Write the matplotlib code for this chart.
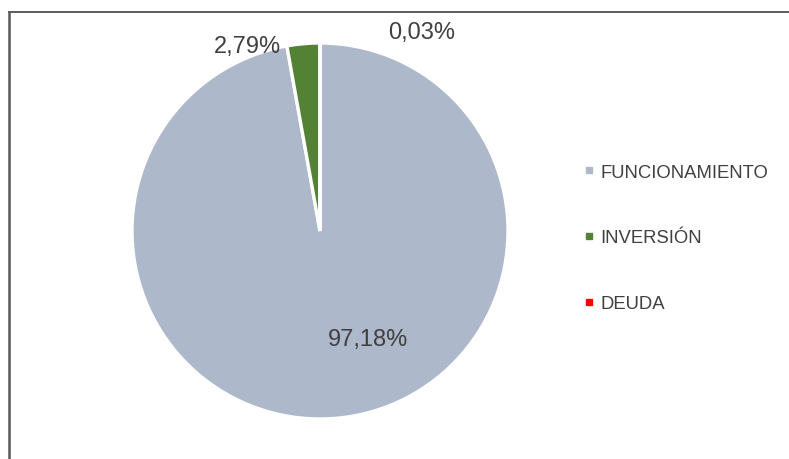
import matplotlib
matplotlib.use("Agg")
import matplotlib.pyplot as plt
from matplotlib.lines import Line2D

categories = ["FUNCIONAMIENTO", "INVERSIÓN", "DEUDA"]
values = [97.18, 2.79, 0.03]
labels = ["97,18%", "2,79%", "0,03%"]
colors = ["#ADB9CA", "#548235", "#FF0000"]

plt.rcParams['font.family'] = ['Liberation Sans', 'DejaVu Sans']

W, H = 789, 460
fig = plt.figure(figsize=(W / 100, H / 100), dpi=100)

# pie axes: center (320,232), radius 188 px
cx, cy, r = 320, 232, 188
ax = fig.add_axes([(cx - r) / W, (H - cy - r) / H, 2 * r / W, 2 * r / H])
ax.pie(values, colors=colors, startangle=90, counterclock=False,
       wedgeprops=dict(edgecolor="white", linewidth=2.4))
ax.set_xlim(-1, 1)
ax.set_ylim(-1, 1)
ax.set_aspect("equal")
ax.axis("off")

label_pos = [(0.257, -0.575), (-0.385, 0.984), (0.540, 1.059)]
for lab, (x, y) in zip(labels, label_pos):
    ax.text(x, y, lab, ha="center", va="center", fontsize=17, color="#404040",
            clip_on=False)

# legend
handles = [Line2D([], [], marker="s", linestyle="none", markersize=4.5,
                  markerfacecolor=c, markeredgecolor=c) for c in colors]
leg = fig.legend(handles, categories, loc="center left",
                 bbox_to_anchor=(583 / W, 1 - 239 / H), frameon=False,
                 fontsize=13.3, labelspacing=2.65, handlelength=0.6,
                 handletextpad=0.35, borderpad=0, borderaxespad=0)
for t in leg.get_texts():
    t.set_color("#404040")

# border lines (cropped chart frame)
fig.add_artist(Line2D([8.5 / W, 1], [1 - 12.5 / H, 1 - 12.5 / H],
                      transform=fig.transFigure, color="#404040", linewidth=1.2))
fig.add_artist(Line2D([8.5 / W, 8.5 / W], [0, 1 - 12.5 / H],
                      transform=fig.transFigure, color="#595959", linewidth=1.8))

fig.savefig("out.png", dpi=100)
